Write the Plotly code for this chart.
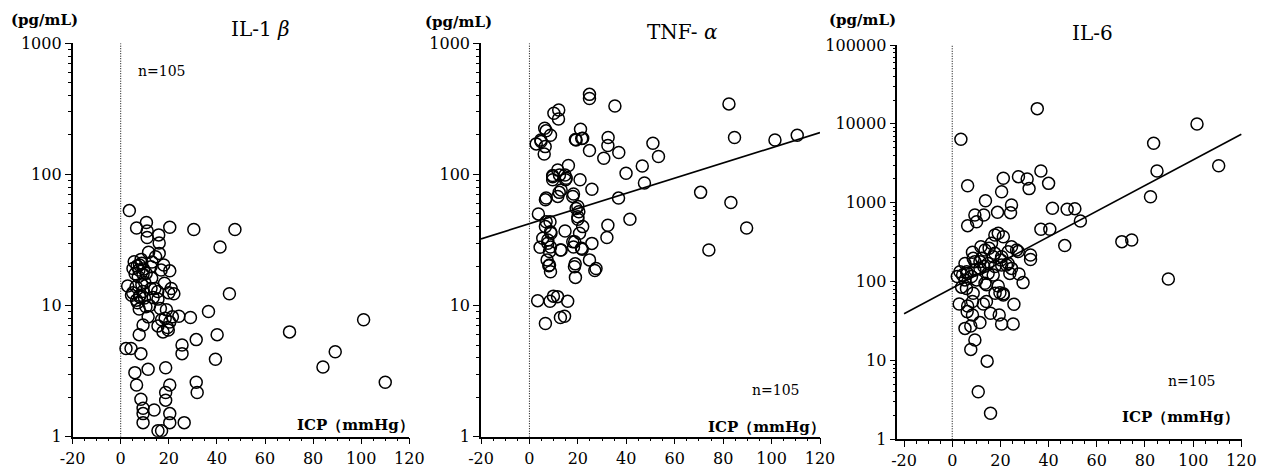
import plotly.graph_objects as go

W, H = 1261, 475

# ---------------- data ----------------
il1b_icp = [3.6, 10.7, 6.6, 11, 20.4, 30.4, 47.5, 15.8, 16, 41.3,
            11.6, 14.5, 5.6, 8.7, 7.6, 9.3, 7.3, 17.9, 20.4, 12.9,
            2.9, 5, 8, 6.6, 14.2, 21, 22.1, 15.5, 45.2, 7.7,
            11.4, 19, 24.2, 29, 36.5, 9.3, 15.5, 17.6, 20.4, 7.7,
            40.1, 31.4, 25.5, 25.5, 2.2, 4.3, 8.4, 39.4, 5.9, 11.4,
            18.7, 6.6, 20.4, 31.4, 31.8, 18.7, 18.7, 8.4, 9.3, 9.3,
            13.9, 20.4, 9.3, 20.4, 26.4, 15.5, 17,
            70.2, 101, 89.2, 84.1, 110,
            7.8, 5.1, 10.6, 12.6, 16.8, 6.4, 9.2, 7.8, 9.9, 12.6,
            15.4, 18.2, 18.5, 19.5, 16.5, 12,
            8.5, 6, 10, 13.5, 7, 10.5, 21.5, 19.8, 13, 16, 11, 20, 4.5, 8.8, 6.8, 17, 9.5]
il1b_val = [53, 43, 39, 37, 39.5, 38, 38, 34.6, 30, 28,
            25.5, 23.6, 21.6, 21, 18.7, 17.3, 16.6, 20.4, 18.4, 16.2,
            14.1, 12.5, 12, 11, 13.5, 13.5, 12.3, 11.2, 12.3, 9.4,
            8.2, 9.3, 8.3, 8.1, 9, 7.1, 7, 6.3, 7.5, 6,
            6, 5.5, 5, 4.3, 4.7, 4.7, 4.3, 3.9, 3.08, 3.27,
            3.36, 2.48, 2.48, 2.6, 2.17, 2.17, 1.9, 1.93, 1.65, 1.5,
            1.6, 1.5, 1.28, 1.28, 1.28, 1.11, 1.11,
            6.3, 7.8, 4.45, 3.4, 2.6,
            20.4, 19.2, 17.6, 19.8, 18.7, 13.9, 12.8, 11.7, 11.4, 13.5,
            12.8, 14.8, 8.0, 6.8, 9.5, 10,
            22.5, 17.5, 15, 11.5, 10.5, 9.8, 8.2, 6.5, 21.5, 25, 33, 12.5, 12, 14.5, 20, 7.8, 19]

tnf_icp = [24.8, 24.8, 35.3, 82.4, 12.1, 10.1, 12.0, 6.3, 6.9, 8.7,
           21.1, 21.6, 19.0, 32.5, 84.7, 101.4, 110.6, 2.8, 4.7, 6.5,
           6.1, 51, 32.4, 24.8, 36.9, 30.7, 53.3, 46.6, 16.1, 39.9,
           9.6, 11.7, 14.7, 9.6, 20.9, 47.5, 14.9, 25.8, 12.3, 18.2,
           70.7, 6.6, 36.8, 83.2, 20, 3.7, 20.4, 20, 41.5, 8.5,
           6.6, 22, 32.4, 89.7, 14.7, 8.7, 20.7, 25.8, 32, 18.7,
           7.6, 4.4, 8.7, 12.8, 18.2, 21.8, 74.1, 7.3, 24.8, 8,
           18.9, 27.5, 27, 8.7, 19, 3.4, 8.5, 9.9, 11.6, 15.8,
           12.8, 14.5, 6.6,
           4.8, 19.3, 22, 9.6, 12.4, 15.2, 13.1, 6.9, 11.7, 17.9,
           19.3, 6.9, 8.9, 5.5, 7.6, 8.3, 13.1, 8.3, 20, 17.9, 21.5, 18.6]
tnf_val = [408, 379, 333, 345, 310, 293, 265, 225, 215, 199,
           221, 188, 185, 191, 191, 183, 199, 171, 183, 163,
           143, 173, 166, 152, 147, 133, 137, 116, 117, 102,
           98, 108, 99, 91, 91, 86, 91, 77, 73, 71,
           73, 64, 66, 61, 57, 50, 52, 45.5, 45.5, 43.6,
           40, 40, 41, 39, 37, 36.6, 35.6, 29.8, 33, 30.7,
           31.6, 27.8, 28, 26.5, 28, 26.9, 26.5, 22.3, 22.3, 20.1,
           20.8, 19.2, 18.5, 18.1, 16.4, 10.9, 10.8, 11.8, 11.7, 10.8,
           8.1, 8.3, 7.3,
           178, 183, 189, 96, 99, 93.5, 76, 66, 68, 68,
           55, 43.6, 35.6, 32.6, 29.9, 25.8, 26.5, 20.4, 47.6, 30.7, 27.3, 19.8]

il6_icp = [35.3, 101.6, 3.6, 83.6, 110.6, 85, 36.8, 27.5, 31.1, 21.2,
           31.9, 40, 20.5, 6.4, 82.3, 13.8, 24.6, 24.2, 18.8, 41.6,
           47.7, 50.9, 13.1, 9.4, 10.1, 6.4, 53.2, 36.8, 40.5, 70.4,
           74.5, 46.7, 89.7, 17.7, 19.1, 21.2, 24.6, 27.4, 32.5, 32.5,
           11.9, 8.4, 8.7, 11.5, 15.3, 17, 20.2, 22.5, 24.6, 27.7,
           29.4, 2.1, 4.3, 6.2, 5.3, 8, 9.4, 13.1, 14.9, 3.9,
           5.9, 8.7, 14.2, 19.1, 19.8, 21.2, 17.8, 2.9, 6.4, 8.4,
           14.2, 12.9, 25.6, 6.2, 8.4, 15.9, 19.5, 5.3, 7.7, 11.5,
           20.5, 25.3, 9.4, 7.7, 14.5, 10.8, 15.9,
           13.6, 16.3, 17.7, 20.5, 23.2, 26.7, 5.3, 9.4, 12.2, 14.9,
           17.7, 20.5, 23.2, 3.2, 6, 11.5, 17, 23.9, 10.1, 13.6, 21.2]
il6_val = [15600, 9960, 6370, 5670, 2950, 2530, 2530, 2140, 2000, 2040,
           1510, 1760, 1380, 1645, 1190, 1060, 936, 748, 755, 849,
           825, 841, 699, 699, 575, 512, 587, 460, 460, 321,
           337, 286, 108, 390, 409, 371, 277, 240, 217, 191,
           277, 235, 197, 179, 264, 207, 188, 162, 147, 125,
           97, 116, 121, 127, 105, 116, 140, 155, 127, 85,
           82, 71, 91, 88, 72, 70, 71, 52, 49, 56,
           56, 52, 51.5, 41.6, 37.7, 39.6, 37.7, 25.5, 27.4, 30.2,
           29, 29, 18.2, 13.8, 9.8, 4.0, 2.14,
           251, 306, 228, 207, 239, 251, 170, 179, 197, 170,
           155, 162, 170, 133, 133, 147, 121, 127, 105, 95, 67.6]

# regression lines: log10(value) = intercept + slope * ICP
tnf_fit = (1.624, 0.00579)
il6_fit = (1.917, 0.01626)
fit_x = [-20, 120]

x_ticks = [-20, 0, 20, 40, 60, 80, 100, 120]
y_ticks_a = [1, 10, 100, 1000]
y_ticks_b = [1, 10, 100, 1000, 10000, 100000]

titles = ["IL-1 <i>β</i>", "TNF- <i>α</i>", "IL-6"]
unit_label = "(pg/mL)"
x_label = "ICP（mmHg）"
n_label = "n=105"

# ---------------- figure ----------------
FONT = "DejaVu Serif"
fig = go.Figure()

def fx(px):
    return px / W

def fy(py):
    return 1 - py / H

panels = [
    dict(icp=il1b_icp, val=il1b_val, fit=None, xr=[-20, 120], yr=[0, 3], yt=y_ticks_a,
         xd=[72.6, 409.3], yd=[43.3, 436.7]),
    dict(icp=tnf_icp, val=tnf_val, fit=tnf_fit, xr=[-20, 120], yr=[0, 3], yt=y_ticks_a,
         xd=[481, 820], yd=[43.3, 436.7]),
    dict(icp=il6_icp, val=il6_val, fit=il6_fit, xr=[-22.8, 120.4], yr=[0, 5], yt=y_ticks_b,
         xd=[897.3, 1242.3], yd=[45, 439.3]),
]

for i, p in enumerate(panels):
    n = "" if i == 0 else str(i + 1)
    xa, ya = "x" + n, "y" + n
    top_val = p["yt"][-1]
    # dotted zero line
    fig.add_trace(go.Scatter(x=[0, 0], y=[1, top_val], mode="lines", xaxis=xa, yaxis=ya,
                             line=dict(color="black", width=1, dash="1px,1.5px"),
                             showlegend=False, hoverinfo="skip"))
    if p["fit"] is not None:
        a, b = p["fit"]
        fig.add_trace(go.Scatter(x=fit_x, y=[10 ** (a + b * xv) for xv in fit_x],
                                 mode="lines", xaxis=xa, yaxis=ya,
                                 line=dict(color="black", width=1.6), showlegend=False))
    fig.add_trace(go.Scatter(x=p["icp"], y=p["val"], mode="markers", xaxis=xa, yaxis=ya,
                             marker=dict(symbol="circle-open", size=12, color="black",
                                         line=dict(width=1.5, color="black")),
                             showlegend=False))

    minor_y = [m * 10 ** k for k in range(len(p["yt"]) - 1) for m in range(2, 10)]
    xd = [fx(p["xd"][0]), fx(p["xd"][1])]
    yd = [fy(p["yd"][1]), fy(p["yd"][0])]
    fig.layout["xaxis" + n] = dict(
        domain=xd, range=p["xr"], anchor=ya, showline=True, linecolor="black", linewidth=1.5,
        ticks="outside", ticklen=6, tickwidth=1.2, tickcolor="black",
        tickmode="array", tickvals=x_ticks, ticktext=[str(v) for v in x_ticks],
        showgrid=False, zeroline=False, automargin=False, ticklabeloverflow="allow",
        tickfont=dict(family=FONT, size=16, color="black"),
        minor=dict(ticks="outside", ticklen=3, tickwidth=1, tickcolor="black",
                   tickmode="array", tickvals=[v for v in range(-20, 121, 5)]),
    )
    fig.layout["yaxis" + n] = dict(
        domain=yd, type="log", range=p["yr"], anchor=xa, showline=True, linecolor="black",
        linewidth=1.5, ticks="outside", ticklen=6, tickwidth=1.2, tickcolor="black",
        tickmode="array", tickvals=p["yt"], ticktext=[str(v) for v in p["yt"]],
        showgrid=False, zeroline=False, automargin=False, ticklabeloverflow="allow",
        tickfont=dict(family=FONT, size=16, color="black"),
        minor=dict(ticks="outside", ticklen=3, tickwidth=1, tickcolor="black",
                   tickmode="array", tickvals=minor_y),
    )

ann = []
def txt(t, px, py, size, bold=False):
    ann.append(dict(text=("<b>%s</b>" % t) if bold else t, x=fx(px), y=fy(py),
                    xref="paper", yref="paper", xanchor="center", yanchor="middle",
                    showarrow=False, font=dict(family=FONT, size=size, color="black")))

txt(titles[0], 260, 29, 20)
txt(titles[1], 682.5, 32, 20)
txt(titles[2], 1092.5, 33, 20)
for px, py in [(44, 20), (458, 22), (862, 20)]:
    txt(unit_label, px, py, 15, bold=True)
for px, py in [(161, 71), (775, 390), (1191, 381)]:
    txt(n_label, px, py, 14)
for px, py in [(355, 425), (766.5, 426.7), (1180, 417)]:
    txt(x_label, px, py, 15, bold=True)

fig.update_layout(width=W, height=H, margin=dict(l=0, r=0, t=0, b=0, autoexpand=False),
                  paper_bgcolor="white", plot_bgcolor="white", annotations=ann,
                  showlegend=False)

# remove the default page margin so the 1261x475 figure fills the window exactly
fig.write_html("out.html", config={"displayModeBar": False},
               post_script="document.body.style.margin='0';document.body.style.overflow='hidden';")
